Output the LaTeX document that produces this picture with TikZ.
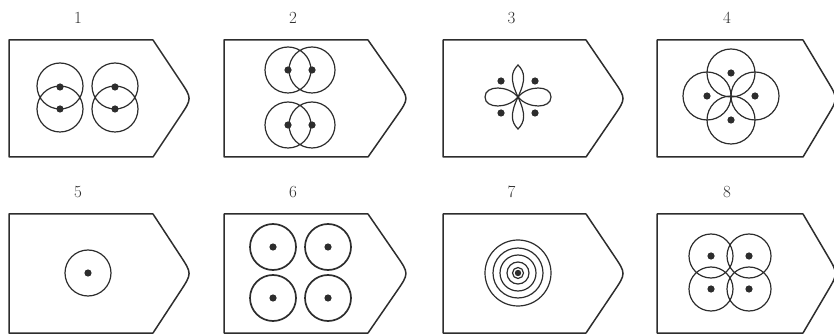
\documentclass[tikz,border=0pt]{standalone}
\usepackage{tikz}
\usetikzlibrary{calc}
\definecolor{ink}{RGB}{45,45,45}

% left, corner, apex, top, bottom, label
\newcommand{\tagframe}[6]{%
  \draw[frame] (#1,#4) -- (#2,#4) -- ($(#2,#4)!0.7!(#3,{(#4+#5)/2})$)
    .. controls (#3,{(#4+#5)/2}) .. ($(#2,#5)!0.7!(#3,{(#4+#5)/2})$)
    -- (#2,#5) -- (#1,#5) -- cycle;
  \node[num] (lab#6) at ({(#1+#2)/2-3},{#4-22}) {#6};
}

\begin{document}
\begin{tikzpicture}[x=1pt,y=-1pt,
  frame/.style={ink,line width=1.5pt,line join=round},
  ring/.style={ink,line width=1.2pt},
  num/.style={ink,font=\fontsize{17}{20}\selectfont}]
  \useasboundingbox (0,0) rectangle (834,336);

  \tagframe{9}{153}{192}{40}{157}{1}
  \tagframe{224}{368}{409}{40}{157}{2}
  \tagframe{443}{586}{626}{40}{157}{3}
  \tagframe{657}{803}{838}{40}{157}{4}
  \tagframe{9}{153}{192}{214}{333}{5}
  \tagframe{224}{368}{409}{214}{333}{6}
  \tagframe{443}{586}{626}{214}{333}{7}
  \tagframe{657}{803}{838}{214}{333}{8}

  % 1
  \foreach \cx in {60,115} {
    \draw[ring] (\cx,86) circle (23) (\cx,109) circle (23);
    \fill[ink] (\cx,87) circle (3.6) (\cx,109) circle (3.6);
  }
  % 2
  \foreach \cy in {70,125} {
    \draw[ring] (288,\cy) circle (23) (312,\cy) circle (23);
    \fill[ink] (288,\cy) circle (3.6) (312,\cy) circle (3.6);
  }
  % 3
  \draw[ring] (518,97) .. controls (508,85) and (485,85) .. (485,97)
    .. controls (485,109) and (508,109) .. (518,97);
  \draw[ring] (518,97) .. controls (528,85) and (551,85) .. (551,97)
    .. controls (551,109) and (528,109) .. (518,97);
  \draw[ring] (518,97) .. controls (526,80) and (525,72) .. (518,65)
    .. controls (511,72) and (510,80) .. (518,97);
  \draw[ring] (518,97) .. controls (526,114) and (525,122) .. (518,129)
    .. controls (511,122) and (510,114) .. (518,97);
  \foreach \dx/\dy in {501/81,535/81,501/113,535/113}
    \fill[ink] (\dx,\dy) circle (3.6);
  % 4
  \foreach \cx/\cy in {731/73,731/120,707/96,755/96} {
    \draw[ring] (\cx,\cy) circle (24);
    \fill[ink] (\cx,\cy) circle (3.6);
  }
  % 5
  \draw[ring] (88,273) circle (23);
  \fill[ink] (88,273) circle (3.6);
  % 6
  \foreach \cx/\cy in {273/247,328/247,273/298,328/298} {
    \draw[ring,line width=1.7pt] (\cx,\cy) circle (23);
    \fill[ink] (\cx,\cy) circle (3.6);
  }
  % 7
  \foreach \r in {33,25,18,11,5.5}
    \draw[ring] (518,273) circle (\r);
  \fill[ink] (518,273) circle (3.2);
  % 8
  \foreach \cx/\cy in {711/256,749/256,711/289,749/289} {
    \draw[ring] (\cx,\cy) circle (22);
    \fill[ink] (\cx,\cy) circle (3.6);
  }
\end{tikzpicture}
\end{document}
